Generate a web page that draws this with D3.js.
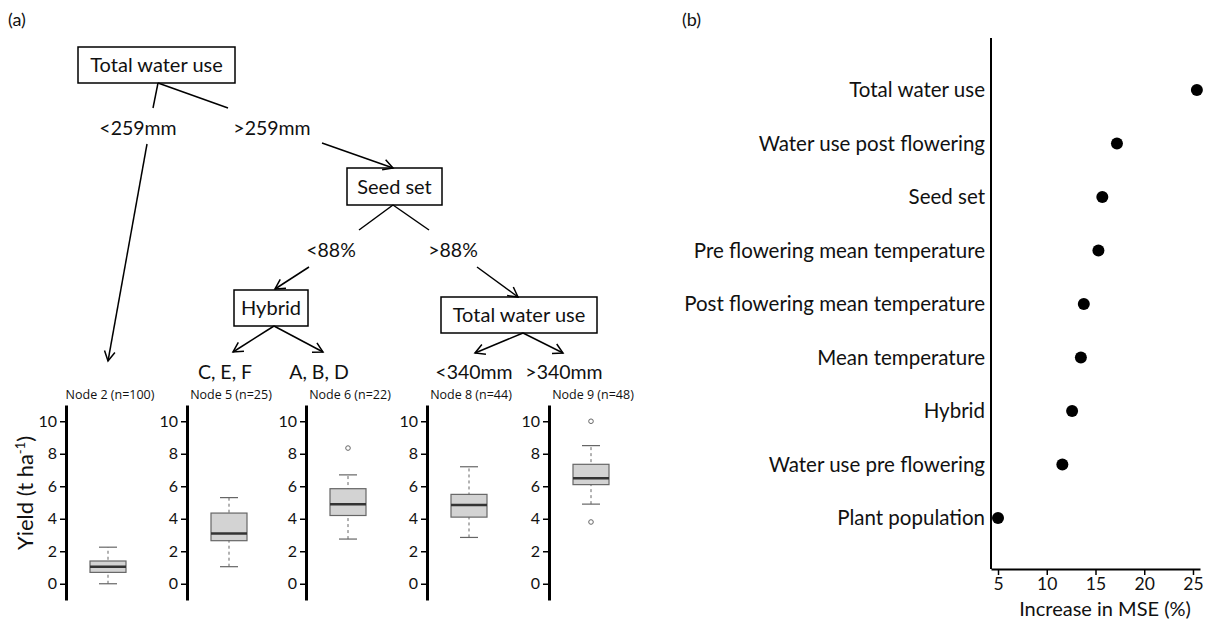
<!DOCTYPE html>
<html>
<head>
<meta charset="utf-8">
<script src="https://cdn.jsdelivr.net/npm/d3@7"></script>
<style>
  body { margin: 0; background: #fff; }
  svg text { font-family: Lato, "Open Sans", sans-serif; fill: #111; }
</style>
</head>
<body>
<svg id="chart" width="1213" height="623"></svg>
<script>
// ---- data: boxplots at the terminal nodes (yield, t/ha)
var nodeNames   = ["Node 2 (n=100)", "Node 5 (n=25)", "Node 6 (n=22)", "Node 8 (n=44)", "Node 9 (n=48)"];
var whiskerLow  = [0.0, 1.05, 2.75, 2.85, 4.9];
var boxLow      = [0.7, 2.65, 4.2, 4.1, 6.1];
var medians     = [1.05, 3.1, 4.9, 4.85, 6.5];
var boxHigh     = [1.4, 4.35, 5.85, 5.5, 7.35];
var whiskerHigh = [2.25, 5.3, 6.7, 7.2, 8.5];
var outliers    = [[], [], [8.35], [], [10.0, 3.8]];
var yieldTicks  = [0, 2, 4, 6, 8, 10];

// ---- data: variable importance
var variables = ["Total water use", "Water use post flowering", "Seed set",
  "Pre flowering mean temperature", "Post flowering mean temperature",
  "Mean temperature", "Hybrid", "Water use pre flowering", "Plant population"];
var mseIncrease = [25.4, 17.2, 15.7, 15.3, 13.8, 13.5, 12.6, 11.6, 5.0];
var mseTicks = [5, 10, 15, 20, 25];

// ---- tree (layout only)
var treeBoxes = [
  {label: "Total water use", x0: 78, x1: 235, y0: 47, y1: 83},
  {label: "Seed set", x0: 347, x1: 442, y0: 168, y1: 205},
  {label: "Hybrid", x0: 234, x1: 308, y0: 290, y1: 326},
  {label: "Total water use", x0: 441, x1: 597, y0: 297, y1: 333}
];
var splitLabels = [
  {t: "<259mm", x: 138, y: 128}, {t: ">259mm", x: 272, y: 128},
  {t: "<88%", x: 331, y: 250}, {t: ">88%", x: 453, y: 250},
  {t: "C, E, F", x: 225, y: 372}, {t: "A, B, D", x: 319, y: 372},
  {t: "<340mm", x: 474, y: 372}, {t: ">340mm", x: 564, y: 372}
];
// plain segments and arrows
var segs = [
  [158, 83, 153, 108], [158, 83, 228, 108],
  [393, 205, 359, 230], [393, 205, 429, 230]
];
var arrows = [
  [147, 144, 108, 361], [322, 143, 393, 168],
  [309, 267, 275, 289], [477, 267, 518, 297],
  [274, 326, 233, 352], [274, 326, 323, 352],
  [523, 333, 475, 353], [523, 333, 563, 353]
];

var svg = d3.select("#chart");

svg.append("text").attr("x", 8).attr("y", 26).style("font-size", "18px").text("(a)");
svg.append("text").attr("x", 682).attr("y", 26).style("font-size", "18px").text("(b)");

// tree boxes
var tb = svg.append("g");
treeBoxes.forEach(function(b) {
  tb.append("rect").attr("x", b.x0).attr("y", b.y0).attr("width", b.x1 - b.x0).attr("height", b.y1 - b.y0)
    .attr("fill", "#fff").attr("stroke", "#000").attr("stroke-width", 1.5);
  tb.append("text").attr("x", (b.x0 + b.x1) / 2).attr("y", (b.y0 + b.y1) / 2 + 7)
    .attr("text-anchor", "middle").style("font-size", "20px").text(b.label);
});
splitLabels.forEach(function(s) {
  tb.append("text").attr("x", s.x).attr("y", s.y + 7).attr("text-anchor", "middle")
    .style("font-size", "19.5px").text(s.t);
});
segs.forEach(function(s) {
  tb.append("line").attr("x1", s[0]).attr("y1", s[1]).attr("x2", s[2]).attr("y2", s[3])
    .attr("stroke", "#000").attr("stroke-width", 1.5);
});
arrows.forEach(function(s) {
  tb.append("line").attr("x1", s[0]).attr("y1", s[1]).attr("x2", s[2]).attr("y2", s[3])
    .attr("stroke", "#000").attr("stroke-width", 1.5);
  var ang = Math.atan2(s[3] - s[1], s[2] - s[0]);
  var len = 11, spread = 0.5;
  var p = d3.path();
  p.moveTo(s[2] - len * Math.cos(ang - spread), s[3] - len * Math.sin(ang - spread));
  p.lineTo(s[2], s[3]);
  p.lineTo(s[2] - len * Math.cos(ang + spread), s[3] - len * Math.sin(ang + spread));
  tb.append("path").attr("d", p.toString()).attr("fill", "none").attr("stroke", "#000").attr("stroke-width", 1.5);
});

// boxplots
var axisX = [66, 187, 306, 427, 549];
var y = d3.scaleLinear().domain([-1, 11]).range([600, 405]);
var hw = 18;

nodeNames.forEach(function(name, i) {
  var g = svg.append("g").attr("transform", "translate(" + axisX[i] + ",0)");
  var ax = g.append("g").call(d3.axisLeft(y).tickValues(yieldTicks).tickSize(6).tickSizeOuter(0).tickPadding(3));
  ax.select(".domain").attr("stroke-width", 3);
  ax.selectAll(".tick line").attr("stroke-width", 1.5);
  ax.selectAll(".tick text").style("font-size", "16px").style("font-family", "Lato, 'Open Sans', sans-serif").attr("fill", "#111");

  g.append("text").attr("x", 44).attr("y", 399).attr("text-anchor", "middle")
    .style("font-size", "12.5px").style("font-family", "'Open Sans', sans-serif").text(name);

  var cx = 42;
  g.append("line").attr("x1", cx).attr("x2", cx).attr("y1", y(whiskerLow[i])).attr("y2", y(whiskerHigh[i]))
    .attr("stroke", "#666").attr("stroke-dasharray", "3,3");
  [whiskerLow[i], whiskerHigh[i]].forEach(function(v) {
    g.append("line").attr("x1", cx - 9).attr("x2", cx + 9).attr("y1", y(v)).attr("y2", y(v))
      .attr("stroke", "#666").attr("stroke-width", 1.2);
  });
  g.append("rect").attr("x", cx - hw).attr("width", 2 * hw)
    .attr("y", y(boxHigh[i])).attr("height", y(boxLow[i]) - y(boxHigh[i]))
    .attr("fill", "#d3d3d3").attr("stroke", "#666").attr("stroke-width", 1.2);
  g.append("line").attr("x1", cx - hw).attr("x2", cx + hw).attr("y1", y(medians[i])).attr("y2", y(medians[i]))
    .attr("stroke", "#333").attr("stroke-width", 2.5);
  outliers[i].forEach(function(v) {
    g.append("circle").attr("cx", cx).attr("cy", y(v)).attr("r", 2.3)
      .attr("fill", "none").attr("stroke", "#666");
  });
});

svg.append("text").attr("transform", "translate(33,493) rotate(-90)").attr("text-anchor", "middle")
  .style("font-size", "22px")
  .html('Yield (t ha<tspan dy="-8" style="font-size:13px">-1</tspan><tspan dy="8">)</tspan>');

// importance dot plot
var xs = d3.scaleLinear().domain([4.28, 25.72]).range([991, 1200]);
var ys = d3.scalePoint().domain(variables).range([90, 518]);
var axBottom = 569;

var xg = svg.append("g").attr("transform", "translate(0," + axBottom + ")")
  .call(d3.axisBottom(xs).tickValues(mseTicks).tickSize(6).tickSizeOuter(0).tickPadding(3));
xg.select(".domain").attr("stroke-width", 2);
xg.selectAll(".tick line").attr("stroke-width", 1.5);
xg.selectAll(".tick text").style("font-size", "17.5px").style("font-family", "Lato, 'Open Sans', sans-serif").attr("fill", "#111");

svg.append("line").attr("x1", 991).attr("x2", 991).attr("y1", 38).attr("y2", axBottom)
  .attr("stroke", "#000").attr("stroke-width", 2);

svg.append("text").attr("x", 1105).attr("y", 616).attr("text-anchor", "middle")
  .style("font-size", "20px").text("Increase in MSE (%)");

svg.selectAll(".vlab").data(variables).enter().append("text")
  .attr("x", 985).attr("y", function(d) { return ys(d) + 7; })
  .attr("text-anchor", "end").style("font-size", "20.5px").text(function(d) { return d; });

svg.selectAll(".dot").data(mseIncrease).enter().append("circle")
  .attr("cx", function(d) { return xs(d); })
  .attr("cy", function(d, i) { return ys(variables[i]); })
  .attr("r", 6).attr("fill", "#000");
</script>
</body>
</html>
